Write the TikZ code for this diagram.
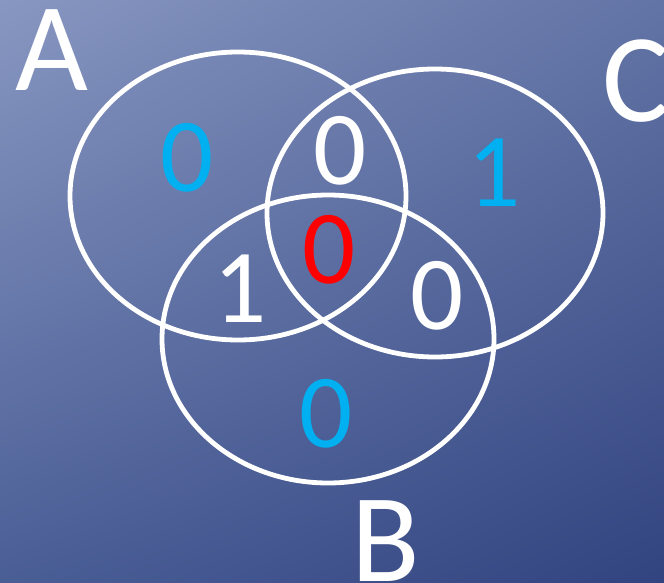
\documentclass[tikz,border=0pt]{standalone}
\usepackage{fontspec}
\setmainfont{Carlito}
\usetikzlibrary{shadings}
\definecolor{bgTL}{RGB}{136,151,193}
\definecolor{bgTR}{RGB}{98,115,165}
\definecolor{bgBL}{RGB}{74,94,150}
\definecolor{bgBR}{RGB}{50,68,128}
\definecolor{offblue}{RGB}{0,176,240}
\begin{document}
\begin{tikzpicture}[x=1pt,y=-1pt,
  setring/.style={draw=white,line width=4.8pt},
  setlabel/.style={text=white,inner sep=0pt,font=\fontsize{126}{126}\selectfont},
  digit/.style={inner sep=0pt,font=\fontsize{105}{105}\selectfont}]
\useasboundingbox (0,0) rectangle (664,583);
\clip (0,0) rectangle (664,583);
\shade[upper left=bgTL,upper right=bgTR,lower left=bgBL,lower right=bgBR] (0,0) rectangle (664,583);
\draw[setring] (238,196) ellipse [x radius=168pt,y radius=144pt];
\draw[setring] (435,213) ellipse [x radius=168pt,y radius=144pt];
\draw[setring] (328,339) ellipse [x radius=166pt,y radius=144pt];
\node[setlabel] (la) at (52,50) {A};
\node[setlabel] (lc) at (636,81) {C};
\node[setlabel] (lb) at (386,541) {B};
\node[digit,text=offblue] (da) at (187,158) {0};
\node[digit,text=white] (dac) at (340,151) {0};
\node[digit,text=offblue] (dc) at (494,173) {1};
\node[digit,text=red] (dabc) at (329,250) {0};
\node[digit,text=white] (dab) at (240,289) {1};
\node[digit,text=white] (dbc) at (437,296) {0};
\node[digit,text=offblue] (db) at (326,414) {0};
\end{tikzpicture}
\end{document}
